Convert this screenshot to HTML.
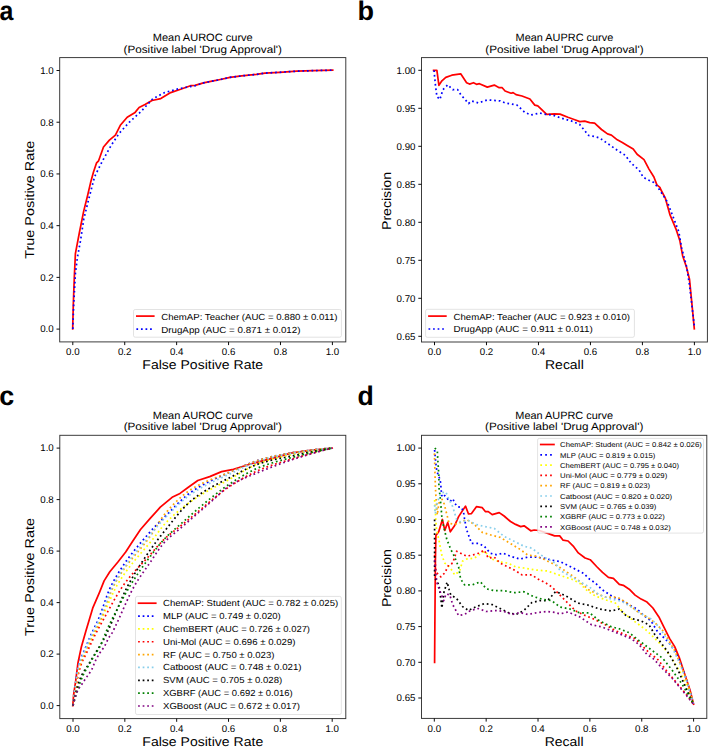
<!DOCTYPE html>
<html><head><meta charset="utf-8"><title>Mean AUROC / AUPRC curves</title>
<style>html,body{margin:0;padding:0;background:#fff;}svg{display:block;}text{font-family:"Liberation Sans", sans-serif;fill:#000;text-rendering:geometricPrecision;}</style>
</head><body>
<svg width="708" height="747" viewBox="0 0 708 747">
<rect x="0" y="0" width="708" height="747" fill="#fff"/>
<clipPath id="clipa"><rect x="59.7" y="57.6" width="286.1" height="284.29999999999995"/></clipPath>
<g clip-path="url(#clipa)">
<polyline points="72.70,329.00 72.70,328.40 73.30,304.60 74.30,277.60 75.40,253.70 79.50,232.00 83.70,211.10 87.60,195.50 90.60,182.60 93.50,172.00 96.60,162.80 98.60,160.80 103.50,147.00 109.40,140.10 115.40,135.10 120.30,125.30 127.20,117.30 135.10,112.40 139.10,107.50 145.00,104.50 152.00,100.50 160.80,98.60 170.70,92.60 180.60,89.30 190.50,85.70 195.00,85.40 203.50,82.90 212.00,81.20 220.40,79.50 230.00,77.40 241.60,75.90 256.40,74.40 264.90,73.10 279.70,72.30 296.70,71.20 313.60,70.60 332.70,70.20" fill="none" stroke="#ff0000" stroke-width="1.72" stroke-linejoin="round" stroke-linecap="square"/>
<polyline points="72.80,329.00 72.90,325.30 73.70,304.60 75.40,273.40 77.50,256.80 80.60,240.20 83.70,219.40 88.30,200.80 94.60,176.70 102.50,160.80 111.40,145.00 119.30,133.20 129.20,122.30 141.10,111.40 152.90,98.60 164.80,92.60 178.60,88.70 195.00,85.80 203.50,82.90 212.00,81.20 220.40,79.50 230.00,77.40 241.60,75.90 256.40,74.40 264.90,73.10 279.70,72.30 296.70,71.20 313.60,70.60 332.70,70.20" fill="none" stroke="#0000ff" stroke-width="1.72" stroke-dasharray="1.72 2.84" stroke-linejoin="round" stroke-linecap="butt"/>
</g>
<rect x="59.7" y="57.6" width="286.10" height="284.30" fill="none" stroke="#333" stroke-width="0.95"/>
<text x="72.80" y="354.90" font-size="9.8" text-anchor="middle" textLength="13.52" lengthAdjust="spacingAndGlyphs">0.0</text>
<text x="124.72" y="354.90" font-size="9.8" text-anchor="middle" textLength="13.52" lengthAdjust="spacingAndGlyphs">0.2</text>
<text x="176.64" y="354.90" font-size="9.8" text-anchor="middle" textLength="13.52" lengthAdjust="spacingAndGlyphs">0.4</text>
<text x="228.56" y="354.90" font-size="9.8" text-anchor="middle" textLength="13.52" lengthAdjust="spacingAndGlyphs">0.6</text>
<text x="280.48" y="354.90" font-size="9.8" text-anchor="middle" textLength="13.52" lengthAdjust="spacingAndGlyphs">0.8</text>
<text x="332.40" y="354.90" font-size="9.8" text-anchor="middle" textLength="13.52" lengthAdjust="spacingAndGlyphs">1.0</text>
<text x="53.70" y="332.40" font-size="9.8" text-anchor="end" textLength="13.52" lengthAdjust="spacingAndGlyphs">0.0</text>
<text x="53.70" y="280.68" font-size="9.8" text-anchor="end" textLength="13.52" lengthAdjust="spacingAndGlyphs">0.2</text>
<text x="53.70" y="228.96" font-size="9.8" text-anchor="end" textLength="13.52" lengthAdjust="spacingAndGlyphs">0.4</text>
<text x="53.70" y="177.24" font-size="9.8" text-anchor="end" textLength="13.52" lengthAdjust="spacingAndGlyphs">0.6</text>
<text x="53.70" y="125.52" font-size="9.8" text-anchor="end" textLength="13.52" lengthAdjust="spacingAndGlyphs">0.8</text>
<text x="53.70" y="73.80" font-size="9.8" text-anchor="end" textLength="13.52" lengthAdjust="spacingAndGlyphs">1.0</text>
<path d="M72.80,341.90V345.10 M124.72,341.90V345.10 M176.64,341.90V345.10 M228.56,341.90V345.10 M280.48,341.90V345.10 M332.40,341.90V345.10 M59.70,329.10H56.50 M59.70,277.38H56.50 M59.70,225.66H56.50 M59.70,173.94H56.50 M59.70,122.22H56.50 M59.70,70.50H56.50" stroke="#000" stroke-width="0.95" fill="none"/>
<text x="202.75" y="368.90" font-size="12.8" text-anchor="middle" textLength="120.82" lengthAdjust="spacingAndGlyphs">False Positive Rate</text>
<text x="34.20" y="199.75" font-size="12.8" text-anchor="middle" textLength="118.03" lengthAdjust="spacingAndGlyphs" transform="rotate(-90 34.20 199.75)">True Positive Rate</text>
<text x="202.75" y="41.30" font-size="10.6" text-anchor="middle" textLength="100.02" lengthAdjust="spacingAndGlyphs">Mean AUROC curve</text>
<text x="202.75" y="52.60" font-size="10.6" text-anchor="middle" textLength="158.30" lengthAdjust="spacingAndGlyphs">(Positive label &#39;Drug Approval&#39;)</text>
<rect x="133.5" y="309.5" width="207.90" height="27.70" rx="1.7" ry="1.7" fill="#fff" fill-opacity="0.8" stroke="#cccccc" stroke-opacity="0.8" stroke-width="0.7"/>
<path d="M136.00,316.10H154.60" stroke="#ff0000" stroke-width="1.72" fill="none"/>
<text x="161.20" y="319.50" font-size="8.8" text-anchor="start" textLength="176.37" lengthAdjust="spacingAndGlyphs">ChemAP: Teacher (AUC = 0.880 ± 0.011)</text>
<path d="M136.40,328.24h1.72v1.72h-1.72z M140.96,328.24h1.72v1.72h-1.72z M145.52,328.24h1.72v1.72h-1.72z M150.07,328.24h1.72v1.72h-1.72z" fill="#0000ff"/>
<text x="161.20" y="332.50" font-size="8.8" text-anchor="start" textLength="139.27" lengthAdjust="spacingAndGlyphs">DrugApp (AUC = 0.871 ± 0.012)</text>
<clipPath id="clipb"><rect x="421.5" y="57.6" width="285.9" height="284.4"/></clipPath>
<g clip-path="url(#clipb)">
<polyline points="433.60,70.30 436.90,70.30 438.90,85.30 441.90,80.80 445.80,77.40 451.80,75.20 460.70,73.80 466.60,82.70 469.50,84.10 473.50,82.70 476.50,84.30 479.40,83.70 487.30,87.10 494.30,85.10 499.20,87.70 502.20,87.70 505.10,91.00 511.10,93.20 513.10,92.60 516.00,94.60 522.00,96.00 527.90,98.20 529.90,99.00 534.80,105.10 537.80,105.90 546.70,114.40 554.60,113.80 560.00,114.10 567.90,117.30 574.80,119.70 579.80,121.60 584.70,121.20 589.70,122.60 594.60,123.20 601.50,129.50 607.50,133.90 611.40,135.10 617.30,139.80 622.30,142.40 627.20,145.40 633.20,148.90 637.10,154.30 644.00,159.60 649.00,169.10 653.90,177.00 656.90,184.90 659.90,187.30 661.00,190.00 665.20,197.80 670.10,215.20 675.90,228.80 679.80,240.40 682.70,256.00 686.60,267.60 689.50,279.30 691.40,298.70 694.30,328.70" fill="none" stroke="#ff0000" stroke-width="1.72" stroke-linejoin="round" stroke-linecap="square"/>
<polyline points="434.00,70.30 435.50,85.70 436.90,96.60 439.90,99.50 442.90,89.70 447.80,84.70 452.70,89.70 457.70,89.70 460.70,94.60 468.60,103.50 471.50,100.90 478.40,102.90 487.30,99.90 500.20,100.90 505.10,102.90 517.00,105.10 524.90,112.40 530.90,115.00 539.80,113.00 545.70,114.40 552.60,115.00 560.00,117.70 571.90,121.20 579.80,124.60 583.70,129.50 588.70,135.50 594.60,136.50 599.50,137.90 607.50,143.40 617.30,150.30 625.30,155.30 631.20,163.20 639.10,170.10 643.10,177.00 647.00,179.40 653.90,182.50 658.90,188.90 664.80,197.80 667.20,201.60 674.00,219.10 678.80,231.70 681.70,248.20 686.60,266.60 689.50,285.10 692.00,306.40 694.30,325.80" fill="none" stroke="#0000ff" stroke-width="1.72" stroke-dasharray="1.72 2.84" stroke-linejoin="round" stroke-linecap="butt"/>
</g>
<rect x="421.5" y="57.6" width="285.90" height="284.40" fill="none" stroke="#333" stroke-width="0.95"/>
<text x="434.50" y="355.00" font-size="9.8" text-anchor="middle" textLength="13.52" lengthAdjust="spacingAndGlyphs">0.0</text>
<text x="486.48" y="355.00" font-size="9.8" text-anchor="middle" textLength="13.52" lengthAdjust="spacingAndGlyphs">0.2</text>
<text x="538.46" y="355.00" font-size="9.8" text-anchor="middle" textLength="13.52" lengthAdjust="spacingAndGlyphs">0.4</text>
<text x="590.44" y="355.00" font-size="9.8" text-anchor="middle" textLength="13.52" lengthAdjust="spacingAndGlyphs">0.6</text>
<text x="642.42" y="355.00" font-size="9.8" text-anchor="middle" textLength="13.52" lengthAdjust="spacingAndGlyphs">0.8</text>
<text x="694.40" y="355.00" font-size="9.8" text-anchor="middle" textLength="13.52" lengthAdjust="spacingAndGlyphs">1.0</text>
<text x="415.50" y="339.60" font-size="9.8" text-anchor="end" textLength="18.93" lengthAdjust="spacingAndGlyphs">0.65</text>
<text x="415.50" y="301.60" font-size="9.8" text-anchor="end" textLength="18.93" lengthAdjust="spacingAndGlyphs">0.70</text>
<text x="415.50" y="263.60" font-size="9.8" text-anchor="end" textLength="18.93" lengthAdjust="spacingAndGlyphs">0.75</text>
<text x="415.50" y="225.60" font-size="9.8" text-anchor="end" textLength="18.93" lengthAdjust="spacingAndGlyphs">0.80</text>
<text x="415.50" y="187.60" font-size="9.8" text-anchor="end" textLength="18.93" lengthAdjust="spacingAndGlyphs">0.85</text>
<text x="415.50" y="149.60" font-size="9.8" text-anchor="end" textLength="18.93" lengthAdjust="spacingAndGlyphs">0.90</text>
<text x="415.50" y="111.60" font-size="9.8" text-anchor="end" textLength="18.93" lengthAdjust="spacingAndGlyphs">0.95</text>
<text x="415.50" y="73.60" font-size="9.8" text-anchor="end" textLength="18.93" lengthAdjust="spacingAndGlyphs">1.00</text>
<path d="M434.50,342.00V345.20 M486.48,342.00V345.20 M538.46,342.00V345.20 M590.44,342.00V345.20 M642.42,342.00V345.20 M694.40,342.00V345.20 M421.50,336.30H418.30 M421.50,298.30H418.30 M421.50,260.30H418.30 M421.50,222.30H418.30 M421.50,184.30H418.30 M421.50,146.30H418.30 M421.50,108.30H418.30 M421.50,70.30H418.30" stroke="#000" stroke-width="0.95" fill="none"/>
<text x="564.45" y="369.00" font-size="12.8" text-anchor="middle" textLength="38.78" lengthAdjust="spacingAndGlyphs">Recall</text>
<text x="391.00" y="201.00" font-size="12.8" text-anchor="middle" textLength="58.01" lengthAdjust="spacingAndGlyphs" transform="rotate(-90 391.00 201.00)">Precision</text>
<text x="564.45" y="41.30" font-size="10.6" text-anchor="middle" textLength="97.63" lengthAdjust="spacingAndGlyphs">Mean AUPRC curve</text>
<text x="564.45" y="52.60" font-size="10.6" text-anchor="middle" textLength="158.30" lengthAdjust="spacingAndGlyphs">(Positive label &#39;Drug Approval&#39;)</text>
<rect x="425.6" y="309.3" width="208.80" height="28.00" rx="1.7" ry="1.7" fill="#fff" fill-opacity="0.8" stroke="#cccccc" stroke-opacity="0.8" stroke-width="0.7"/>
<path d="M428.10,316.10H446.70" stroke="#ff0000" stroke-width="1.72" fill="none"/>
<text x="453.60" y="319.50" font-size="8.8" text-anchor="start" textLength="176.37" lengthAdjust="spacingAndGlyphs">ChemAP: Teacher (AUC = 0.923 ± 0.010)</text>
<path d="M428.50,328.14h1.72v1.72h-1.72z M433.06,328.14h1.72v1.72h-1.72z M437.62,328.14h1.72v1.72h-1.72z M442.17,328.14h1.72v1.72h-1.72z" fill="#0000ff"/>
<text x="453.60" y="332.40" font-size="8.8" text-anchor="start" textLength="139.27" lengthAdjust="spacingAndGlyphs">DrugApp (AUC = 0.911 ± 0.011)</text>
<clipPath id="clipc"><rect x="59.8" y="435.3" width="286.0" height="283.3"/></clipPath>
<g clip-path="url(#clipc)">
<polyline points="72.80,705.60 73.60,695.00 75.70,680.90 78.00,662.70 81.40,646.80 85.90,630.90 92.70,608.20 99.50,592.30 104.10,580.90 109.80,571.80 117.70,562.20 125.70,552.00 132.50,541.50 140.50,529.50 150.40,518.10 160.30,507.20 172.10,497.30 180.00,493.40 188.00,487.50 197.80,480.50 209.70,476.60 221.60,471.60 233.40,469.30 254.70,462.80 292.20,452.90 312.00,450.20 332.20,448.10" fill="none" stroke="#ff0000" stroke-width="1.72" stroke-linejoin="round" stroke-linecap="square"/>
<polyline points="73.00,705.60 73.68,699.35 74.36,693.35 75.05,687.68 75.73,682.38 76.41,677.51 77.09,673.13 77.77,669.29 78.46,666.06 79.14,663.45 79.82,661.22 80.50,659.26 81.19,657.52 81.87,655.92 82.55,654.42 83.23,652.93 83.91,651.40 84.60,649.77 85.28,648.12 85.96,646.49 87.51,642.84 89.06,639.27 90.61,635.78 92.15,632.36 93.70,629.11 95.25,625.99 96.80,622.83 98.35,619.46 99.90,615.67 101.45,611.51 103.00,607.10 104.54,602.60 106.09,598.15 107.64,593.90 109.19,589.99 110.74,586.58 112.29,583.62 113.84,580.78 115.38,578.03 116.93,575.38 118.48,572.81 120.03,570.32 121.58,567.91 123.13,565.58 124.68,563.31 126.23,561.10 127.77,558.96 129.32,556.86 130.87,554.82 132.42,552.83 133.97,550.88 135.52,548.96 137.07,547.08 138.62,545.22 140.16,543.39 141.71,541.58 143.26,539.78 144.81,538.00 146.36,536.21 147.91,534.44 149.46,532.65 151.00,530.88 152.55,529.17 154.10,527.51 155.65,525.89 157.20,524.31 158.75,522.77 160.30,521.24 161.85,519.72 163.39,518.20 164.94,516.67 166.49,515.12 168.04,513.56 169.59,511.98 171.14,510.40 172.69,508.81 174.23,507.24 175.78,505.67 177.33,504.12 178.88,502.60 180.43,501.10 181.98,499.64 183.53,498.22 185.08,496.85 186.62,495.53 188.17,494.27 189.72,493.07 191.27,491.94 192.82,490.89 194.37,489.88 195.92,488.90 197.46,487.96 199.01,487.04 200.56,486.14 202.11,485.28 203.66,484.43 205.21,483.61 206.76,482.81 208.31,482.02 209.85,481.25 211.40,480.50 212.95,479.76 214.50,479.04 216.05,478.32 217.60,477.61 219.15,476.91 220.70,476.22 222.24,475.53 223.79,474.84 225.34,474.16 226.89,473.47 228.44,472.78 229.99,472.09 231.54,471.39 233.08,470.69 234.63,469.98 236.18,469.28 237.73,468.58 239.28,467.88 240.83,467.18 242.38,466.50 243.93,465.82 245.47,465.15 247.02,464.50 248.57,463.86 250.12,463.23 251.67,462.63 253.22,462.05 254.77,461.48 256.31,460.94 257.86,460.43 259.41,459.95 260.96,459.49 262.51,459.06 264.06,458.64 265.61,458.23 267.16,457.83 268.70,457.44 270.25,457.06 271.80,456.69 273.35,456.33 274.90,455.98 276.45,455.64 278.00,455.31 279.54,455.00 281.09,454.69 282.64,454.39 284.19,454.10 285.74,453.82 287.29,453.55 288.84,453.28 290.39,453.03 291.93,452.79 293.48,452.55 295.03,452.32 296.58,452.09 298.13,451.86 299.68,451.63 301.23,451.41 302.78,451.19 304.32,450.98 305.87,450.77 307.42,450.57 308.97,450.36 310.52,450.17 312.07,449.98 313.62,449.79 315.16,449.61 316.71,449.44 318.26,449.27 319.81,449.11 321.36,448.96 322.91,448.81 324.46,448.67 326.01,448.54 327.55,448.42 329.10,448.30 330.65,448.20 332.20,448.10" fill="none" stroke="#0000ff" stroke-width="1.72" stroke-dasharray="1.72 2.84" stroke-linejoin="round" stroke-linecap="butt"/>
<polyline points="73.00,705.60 73.68,700.62 74.36,695.81 75.05,691.21 75.73,686.83 76.41,682.70 77.09,678.85 77.77,675.30 78.46,672.07 79.14,669.20 79.82,666.69 80.50,664.50 81.19,662.52 81.87,660.73 82.55,659.07 83.23,657.52 83.91,656.03 84.60,654.56 85.28,653.07 85.96,651.52 87.51,647.98 89.06,644.54 90.61,641.18 92.15,637.88 93.70,634.64 95.25,631.47 96.80,628.40 98.35,625.38 99.90,622.32 101.45,619.14 103.00,615.79 104.54,612.31 106.09,608.75 107.64,605.15 109.19,601.56 110.74,598.03 112.29,594.61 113.84,591.33 115.38,588.25 116.93,585.42 118.48,582.84 120.03,580.37 121.58,577.99 123.13,575.69 124.68,573.47 126.23,571.32 127.77,569.23 129.32,567.20 130.87,565.22 132.42,563.28 133.97,561.39 135.52,559.53 137.07,557.69 138.62,555.88 140.16,554.08 141.71,552.30 143.26,550.51 144.81,548.72 146.36,546.93 147.91,545.11 149.46,543.28 151.00,541.42 152.55,539.53 154.10,537.60 155.65,535.62 157.20,533.55 158.75,531.44 160.30,529.34 161.85,527.33 163.39,525.48 164.94,523.81 166.49,522.20 168.04,520.63 169.59,519.10 171.14,517.61 172.69,516.16 174.23,514.74 175.78,513.36 177.33,512.02 178.88,510.70 180.43,509.42 181.98,508.17 183.53,506.95 185.08,505.75 186.62,504.58 188.17,503.44 189.72,502.32 191.27,501.22 192.82,500.15 194.37,499.10 195.92,498.07 197.46,497.08 199.01,496.10 200.56,495.15 202.11,494.22 203.66,493.30 205.21,492.40 206.76,491.52 208.31,490.65 209.85,489.80 211.40,488.95 212.95,488.12 214.50,487.29 216.05,486.46 217.60,485.64 219.15,484.83 220.70,484.01 222.24,483.19 223.79,482.38 225.34,481.55 226.89,480.73 228.44,479.89 229.99,479.05 231.54,478.19 233.08,477.31 234.63,476.42 236.18,475.52 237.73,474.60 239.28,473.69 240.83,472.77 242.38,471.86 243.93,470.95 245.47,470.06 247.02,469.18 248.57,468.32 250.12,467.49 251.67,466.68 253.22,465.90 254.77,465.16 256.31,464.45 257.86,463.78 259.41,463.17 260.96,462.60 262.51,462.07 264.06,461.56 265.61,461.06 267.16,460.59 268.70,460.13 270.25,459.68 271.80,459.25 273.35,458.83 274.90,458.43 276.45,458.03 278.00,457.65 279.54,457.28 281.09,456.92 282.64,456.57 284.19,456.22 285.74,455.89 287.29,455.56 288.84,455.24 290.39,454.92 291.93,454.61 293.48,454.30 295.03,453.99 296.58,453.69 298.13,453.39 299.68,453.10 301.23,452.80 302.78,452.52 304.32,452.23 305.87,451.95 307.42,451.68 308.97,451.41 310.52,451.15 312.07,450.89 313.62,450.63 315.16,450.39 316.71,450.14 318.26,449.91 319.81,449.68 321.36,449.46 322.91,449.24 324.46,449.03 326.01,448.83 327.55,448.64 329.10,448.45 330.65,448.27 332.20,448.10" fill="none" stroke="#ffff00" stroke-width="1.72" stroke-dasharray="1.72 2.84" stroke-linejoin="round" stroke-linecap="butt"/>
<polyline points="73.00,705.60 73.68,700.95 74.36,696.45 75.05,692.12 75.73,687.98 76.41,684.05 77.09,680.36 77.77,676.93 78.46,673.78 79.14,670.93 79.82,668.41 80.50,666.23 81.19,664.29 81.87,662.54 82.55,660.95 83.23,659.48 83.91,658.10 84.60,656.78 85.28,655.48 85.96,654.17 87.51,650.98 89.06,647.63 90.61,644.29 92.15,640.98 93.70,637.74 95.25,634.60 96.80,631.58 98.35,628.67 99.90,625.84 101.45,623.05 103.00,620.29 104.54,617.51 106.09,614.69 107.64,611.87 109.19,609.04 110.74,606.22 112.29,603.43 113.84,600.67 115.38,597.96 116.93,595.32 118.48,592.75 120.03,590.27 121.58,587.89 123.13,585.62 124.68,583.48 126.23,581.43 127.77,579.46 129.32,577.55 130.87,575.70 132.42,573.91 133.97,572.16 135.52,570.45 137.07,568.77 138.62,567.11 140.16,565.47 141.71,563.84 143.26,562.21 144.81,560.57 146.36,558.92 147.91,557.25 149.46,555.55 151.00,553.81 152.55,552.04 154.10,550.25 155.65,548.46 157.20,546.68 158.75,544.94 160.30,543.24 161.85,541.62 163.39,540.07 164.94,538.62 166.49,537.23 168.04,535.90 169.59,534.61 171.14,533.36 172.69,532.14 174.23,530.93 175.78,529.74 177.33,528.55 178.88,527.35 180.43,526.14 181.98,524.91 183.53,523.65 185.08,522.38 186.62,521.12 188.17,519.85 189.72,518.59 191.27,517.33 192.82,516.07 194.37,514.81 195.92,513.53 197.46,512.23 199.01,510.93 200.56,509.62 202.11,508.30 203.66,506.98 205.21,505.66 206.76,504.34 208.31,503.02 209.85,501.71 211.40,500.40 212.95,499.11 214.50,497.83 216.05,496.57 217.60,495.32 219.15,494.10 220.70,492.89 222.24,491.71 223.79,490.56 225.34,489.44 226.89,488.35 228.44,487.29 229.99,486.27 231.54,485.27 233.08,484.29 234.63,483.31 236.18,482.35 237.73,481.40 239.28,480.47 240.83,479.55 242.38,478.65 243.93,477.76 245.47,476.89 247.02,476.04 248.57,475.20 250.12,474.39 251.67,473.60 253.22,472.82 254.77,472.07 256.31,471.35 257.86,470.64 259.41,469.96 260.96,469.31 262.51,468.67 264.06,468.06 265.61,467.47 267.16,466.89 268.70,466.33 270.25,465.78 271.80,465.25 273.35,464.73 274.90,464.22 276.45,463.72 278.00,463.22 279.54,462.74 281.09,462.26 282.64,461.79 284.19,461.33 285.74,460.86 287.29,460.40 288.84,459.94 290.39,459.48 291.93,459.02 293.48,458.56 295.03,458.10 296.58,457.64 298.13,457.19 299.68,456.73 301.23,456.29 302.78,455.84 304.32,455.40 305.87,454.96 307.42,454.53 308.97,454.10 310.52,453.67 312.07,453.24 313.62,452.82 315.16,452.41 316.71,452.00 318.26,451.59 319.81,451.18 321.36,450.78 322.91,450.39 324.46,449.99 326.01,449.61 327.55,449.22 329.10,448.84 330.65,448.47 332.20,448.10" fill="none" stroke="#ff0000" stroke-width="1.72" stroke-dasharray="1.72 2.84" stroke-linejoin="round" stroke-linecap="butt"/>
<polyline points="73.00,705.60 73.68,700.46 74.36,695.50 75.05,690.74 75.73,686.23 76.41,681.97 77.09,678.02 77.77,674.40 78.46,671.13 79.14,668.26 79.82,665.78 80.50,663.56 81.19,661.55 81.87,659.71 82.55,658.00 83.23,656.40 83.91,654.85 84.60,653.34 85.28,651.81 85.96,650.24 87.51,646.68 89.06,643.28 90.61,639.99 92.15,636.76 93.70,633.57 95.25,630.48 96.80,627.51 98.35,624.50 99.90,621.32 101.45,617.78 103.00,613.87 104.54,609.70 106.09,605.37 107.64,601.02 109.19,596.74 110.74,592.66 112.29,588.89 113.84,585.54 115.38,582.65 116.93,579.94 118.48,577.35 120.03,574.88 121.58,572.51 123.13,570.24 124.68,568.07 126.23,565.96 127.77,563.93 129.32,561.96 130.87,560.03 132.42,558.15 133.97,556.30 135.52,554.46 137.07,552.64 138.62,550.82 140.16,548.98 141.71,547.13 143.26,545.26 144.81,543.34 146.36,541.38 147.91,539.36 149.46,537.27 151.00,535.11 152.55,532.85 154.10,530.44 155.65,527.90 157.20,525.30 158.75,522.73 160.30,520.23 161.85,517.89 163.39,515.78 164.94,513.90 166.49,512.07 168.04,510.29 169.59,508.55 171.14,506.85 172.69,505.20 174.23,503.59 175.78,502.03 177.33,500.51 178.88,499.05 180.43,497.64 181.98,496.27 183.53,494.97 185.08,493.72 186.62,492.52 188.17,491.38 189.72,490.31 191.27,489.29 192.82,488.33 194.37,487.42 195.92,486.55 197.46,485.71 199.01,484.90 200.56,484.13 202.11,483.39 203.66,482.67 205.21,481.97 206.76,481.29 208.31,480.64 209.85,480.00 211.40,479.37 212.95,478.76 214.50,478.15 216.05,477.55 217.60,476.96 219.15,476.37 220.70,475.77 222.24,475.18 223.79,474.58 225.34,473.97 226.89,473.36 228.44,472.73 229.99,472.08 231.54,471.43 233.08,470.76 234.63,470.08 236.18,469.39 237.73,468.70 239.28,468.01 240.83,467.31 242.38,466.62 243.93,465.94 245.47,465.26 247.02,464.60 248.57,463.94 250.12,463.31 251.67,462.69 253.22,462.09 254.77,461.51 256.31,460.96 257.86,460.44 259.41,459.95 260.96,459.49 262.51,459.06 264.06,458.64 265.61,458.23 267.16,457.83 268.70,457.44 270.25,457.06 271.80,456.69 273.35,456.33 274.90,455.98 276.45,455.64 278.00,455.31 279.54,455.00 281.09,454.69 282.64,454.39 284.19,454.10 285.74,453.82 287.29,453.55 288.84,453.28 290.39,453.03 291.93,452.79 293.48,452.55 295.03,452.32 296.58,452.09 298.13,451.86 299.68,451.63 301.23,451.41 302.78,451.19 304.32,450.98 305.87,450.77 307.42,450.57 308.97,450.36 310.52,450.17 312.07,449.98 313.62,449.79 315.16,449.61 316.71,449.44 318.26,449.27 319.81,449.11 321.36,448.96 322.91,448.81 324.46,448.67 326.01,448.54 327.55,448.42 329.10,448.30 330.65,448.20 332.20,448.10" fill="none" stroke="#ffa500" stroke-width="1.72" stroke-dasharray="1.72 2.84" stroke-linejoin="round" stroke-linecap="butt"/>
<polyline points="73.00,705.60 73.68,699.45 74.36,693.53 75.05,687.90 75.73,682.65 76.41,677.83 77.09,673.51 77.77,669.76 78.46,666.64 79.14,664.14 79.82,661.98 80.50,660.07 81.19,658.36 81.87,656.79 82.55,655.33 83.23,653.91 83.91,652.48 84.60,650.99 85.28,649.41 85.96,647.83 87.51,644.29 89.06,640.84 90.61,637.46 92.15,634.16 93.70,630.95 95.25,627.92 96.80,624.94 98.35,621.84 99.90,618.43 101.45,614.69 103.00,610.71 104.54,606.59 106.09,602.41 107.64,598.27 109.19,594.27 110.74,590.51 112.29,587.07 113.84,584.06 115.38,581.31 116.93,578.66 118.48,576.10 120.03,573.64 121.58,571.25 123.13,568.95 124.68,566.71 126.23,564.55 127.77,562.44 129.32,560.38 130.87,558.38 132.42,556.42 133.97,554.49 135.52,552.59 137.07,550.72 138.62,548.87 140.16,547.04 141.71,545.21 143.26,543.38 144.81,541.55 146.36,539.70 147.91,537.85 149.46,535.97 151.00,534.06 152.55,532.15 154.10,530.24 155.65,528.36 157.20,526.50 158.75,524.68 160.30,522.91 161.85,521.19 163.39,519.52 164.94,517.92 166.49,516.32 168.04,514.73 169.59,513.16 171.14,511.60 172.69,510.05 174.23,508.53 175.78,507.03 177.33,505.56 178.88,504.11 180.43,502.70 181.98,501.33 183.53,499.99 185.08,498.70 186.62,497.45 188.17,496.24 189.72,495.09 191.27,493.99 192.82,492.95 194.37,491.94 195.92,490.97 197.46,490.02 199.01,489.10 200.56,488.21 202.11,487.34 203.66,486.49 205.21,485.66 206.76,484.85 208.31,484.06 209.85,483.29 211.40,482.53 212.95,481.78 214.50,481.04 216.05,480.31 217.60,479.59 219.15,478.87 220.70,478.16 222.24,477.45 223.79,476.74 225.34,476.04 226.89,475.33 228.44,474.61 229.99,473.89 231.54,473.16 233.08,472.43 234.63,471.69 236.18,470.95 237.73,470.21 239.28,469.47 240.83,468.74 242.38,468.01 243.93,467.29 245.47,466.58 247.02,465.88 248.57,465.20 250.12,464.53 251.67,463.89 253.22,463.26 254.77,462.66 256.31,462.08 257.86,461.53 259.41,461.01 260.96,460.53 262.51,460.06 264.06,459.61 265.61,459.17 267.16,458.74 268.70,458.33 270.25,457.92 271.80,457.52 273.35,457.14 274.90,456.77 276.45,456.40 278.00,456.05 279.54,455.70 281.09,455.37 282.64,455.05 284.19,454.73 285.74,454.43 287.29,454.14 288.84,453.85 290.39,453.58 291.93,453.31 293.48,453.05 295.03,452.79 296.58,452.54 298.13,452.29 299.68,452.04 301.23,451.80 302.78,451.56 304.32,451.32 305.87,451.09 307.42,450.87 308.97,450.64 310.52,450.43 312.07,450.22 313.62,450.01 315.16,449.81 316.71,449.62 318.26,449.43 319.81,449.26 321.36,449.08 322.91,448.92 324.46,448.76 326.01,448.61 327.55,448.47 329.10,448.34 330.65,448.21 332.20,448.10" fill="none" stroke="#87ceeb" stroke-width="1.72" stroke-dasharray="1.72 2.84" stroke-linejoin="round" stroke-linecap="butt"/>
<polyline points="73.00,705.60 73.68,702.48 74.36,699.44 75.05,696.50 75.73,693.67 76.41,690.96 77.09,688.39 77.77,685.96 78.46,683.68 79.14,681.57 79.82,679.65 80.50,677.91 81.19,676.37 81.87,674.97 82.55,673.68 83.23,672.50 83.91,671.39 84.60,670.34 85.28,669.33 85.96,668.33 87.51,666.05 89.06,663.56 90.61,661.00 92.15,658.43 93.70,655.87 95.25,653.31 96.80,650.75 98.35,648.25 99.90,645.79 101.45,643.27 103.00,640.64 104.54,637.83 106.09,634.80 107.64,631.58 109.19,628.21 110.74,624.71 112.29,621.11 113.84,617.44 115.38,613.73 116.93,610.01 118.48,606.29 120.03,602.62 121.58,599.03 123.13,595.53 124.68,592.15 126.23,588.94 127.77,585.91 129.32,583.05 130.87,580.27 132.42,577.56 133.97,574.92 135.52,572.34 137.07,569.81 138.62,567.34 140.16,564.91 141.71,562.53 143.26,560.18 144.81,557.87 146.36,555.59 147.91,553.33 149.46,551.09 151.00,548.87 152.55,546.69 154.10,544.56 155.65,542.46 157.20,540.41 158.75,538.38 160.30,536.40 161.85,534.44 163.39,532.51 164.94,530.60 166.49,528.67 168.04,526.73 169.59,524.78 171.14,522.84 172.69,520.90 174.23,518.97 175.78,517.07 177.33,515.19 178.88,513.34 180.43,511.54 181.98,509.78 183.53,508.08 185.08,506.43 186.62,504.86 188.17,503.35 189.72,501.93 191.27,500.59 192.82,499.34 194.37,498.16 195.92,497.01 197.46,495.89 199.01,494.81 200.56,493.77 202.11,492.75 203.66,491.77 205.21,490.81 206.76,489.87 208.31,488.96 209.85,488.07 211.40,487.20 212.95,486.34 214.50,485.50 216.05,484.68 217.60,483.86 219.15,483.05 220.70,482.26 222.24,481.46 223.79,480.67 225.34,479.88 226.89,479.09 228.44,478.30 229.99,477.50 231.54,476.70 233.08,475.89 234.63,475.08 236.18,474.26 237.73,473.45 239.28,472.65 240.83,471.85 242.38,471.06 243.93,470.28 245.47,469.51 247.02,468.76 248.57,468.03 250.12,467.32 251.67,466.63 253.22,465.96 254.77,465.33 256.31,464.72 257.86,464.15 259.41,463.61 260.96,463.10 262.51,462.63 264.06,462.18 265.61,461.75 267.16,461.33 268.70,460.93 270.25,460.54 271.80,460.17 273.35,459.81 274.90,459.46 276.45,459.11 278.00,458.78 279.54,458.45 281.09,458.13 282.64,457.81 284.19,457.49 285.74,457.18 287.29,456.86 288.84,456.54 290.39,456.22 291.93,455.90 293.48,455.57 295.03,455.25 296.58,454.92 298.13,454.60 299.68,454.28 301.23,453.96 302.78,453.65 304.32,453.33 305.87,453.02 307.42,452.71 308.97,452.41 310.52,452.10 312.07,451.80 313.62,451.50 315.16,451.20 316.71,450.91 318.26,450.61 319.81,450.32 321.36,450.04 322.91,449.75 324.46,449.47 326.01,449.19 327.55,448.91 329.10,448.64 330.65,448.37 332.20,448.10" fill="none" stroke="#000000" stroke-width="1.72" stroke-dasharray="1.72 2.84" stroke-linejoin="round" stroke-linecap="butt"/>
<polyline points="73.00,705.60 73.68,703.08 74.36,700.63 75.05,698.24 75.73,695.91 76.41,693.65 77.09,691.46 77.77,689.34 78.46,687.29 79.14,685.31 79.82,683.41 80.50,681.57 81.19,679.82 81.87,678.13 82.55,676.53 83.23,675.00 83.91,673.56 84.60,672.22 85.28,670.97 85.96,669.78 87.51,667.23 89.06,664.71 90.61,662.04 92.15,659.32 93.70,656.65 95.25,654.15 96.80,651.83 98.35,649.43 99.90,646.73 101.45,643.45 103.00,639.60 104.54,635.57 106.09,631.72 107.64,628.25 109.19,624.98 110.74,621.83 112.29,618.72 113.84,615.64 115.38,612.59 116.93,609.57 118.48,606.59 120.03,603.66 121.58,600.76 123.13,597.92 124.68,595.13 126.23,592.39 127.77,589.72 129.32,587.10 130.87,584.55 132.42,582.06 133.97,579.62 135.52,577.24 137.07,574.89 138.62,572.59 140.16,570.33 141.71,568.11 143.26,565.92 144.81,563.77 146.36,561.64 147.91,559.54 149.46,557.47 151.00,555.41 152.55,553.36 154.10,551.34 155.65,549.35 157.20,547.40 158.75,545.49 160.30,543.64 161.85,541.86 163.39,540.14 164.94,538.50 166.49,536.92 168.04,535.40 169.59,533.92 171.14,532.47 172.69,531.07 174.23,529.68 175.78,528.31 177.33,526.96 178.88,525.60 180.43,524.24 181.98,522.88 183.53,521.50 185.08,520.12 186.62,518.75 188.17,517.38 189.72,516.01 191.27,514.65 192.82,513.29 194.37,511.95 195.92,510.60 197.46,509.27 199.01,507.94 200.56,506.62 202.11,505.32 203.66,504.02 205.21,502.73 206.76,501.45 208.31,500.19 209.85,498.94 211.40,497.70 212.95,496.46 214.50,495.21 216.05,493.98 217.60,492.75 219.15,491.53 220.70,490.33 222.24,489.15 223.79,487.99 225.34,486.86 226.89,485.77 228.44,484.71 229.99,483.69 231.54,482.70 233.08,481.71 234.63,480.74 236.18,479.77 237.73,478.81 239.28,477.86 240.83,476.93 242.38,476.01 243.93,475.11 245.47,474.23 247.02,473.36 248.57,472.52 250.12,471.70 251.67,470.91 253.22,470.14 254.77,469.39 256.31,468.68 257.86,468.00 259.41,467.34 260.96,466.72 262.51,466.13 264.06,465.57 265.61,465.02 267.16,464.48 268.70,463.97 270.25,463.47 271.80,462.99 273.35,462.51 274.90,462.05 276.45,461.61 278.00,461.17 279.54,460.74 281.09,460.32 282.64,459.90 284.19,459.49 285.74,459.08 287.29,458.67 288.84,458.27 290.39,457.87 291.93,457.46 293.48,457.06 295.03,456.65 296.58,456.25 298.13,455.86 299.68,455.46 301.23,455.07 302.78,454.69 304.32,454.30 305.87,453.92 307.42,453.55 308.97,453.17 310.52,452.81 312.07,452.44 313.62,452.08 315.16,451.72 316.71,451.37 318.26,451.02 319.81,450.68 321.36,450.34 322.91,450.01 324.46,449.68 326.01,449.35 327.55,449.03 329.10,448.72 330.65,448.40 332.20,448.10" fill="none" stroke="#008000" stroke-width="1.72" stroke-dasharray="1.72 2.84" stroke-linejoin="round" stroke-linecap="butt"/>
<polyline points="73.00,705.60 73.68,702.86 74.36,700.25 75.05,697.82 75.73,695.60 76.41,693.62 77.09,691.93 77.77,690.51 78.46,689.26 79.14,688.14 79.82,687.12 80.50,686.14 81.19,685.17 81.87,684.16 82.55,683.12 83.23,682.11 83.91,681.10 84.60,680.11 85.28,679.12 85.96,678.13 87.51,675.87 89.06,673.71 90.61,671.41 92.15,668.61 93.70,664.83 95.25,661.13 96.80,658.12 98.35,655.38 99.90,652.85 101.45,650.62 103.00,648.63 104.54,646.42 106.09,643.39 107.64,639.83 109.19,637.09 110.74,635.05 112.29,632.59 113.84,629.50 115.38,626.27 116.93,623.04 118.48,619.71 120.03,616.29 121.58,612.83 123.13,609.34 124.68,605.86 126.23,602.41 127.77,599.03 129.32,595.73 130.87,592.56 132.42,589.53 133.97,586.67 135.52,584.00 137.07,581.47 138.62,579.04 140.16,576.70 141.71,574.43 143.26,572.21 144.81,570.02 146.36,567.84 147.91,565.66 149.46,563.45 151.00,561.19 152.55,558.86 154.10,556.51 155.65,554.15 157.20,551.83 158.75,549.57 160.30,547.42 161.85,545.39 163.39,543.52 164.94,541.82 166.49,540.24 168.04,538.74 169.59,537.32 171.14,535.96 172.69,534.64 174.23,533.37 175.78,532.11 177.33,530.85 178.88,529.59 180.43,528.31 181.98,526.99 183.53,525.64 185.08,524.29 186.62,522.94 188.17,521.59 189.72,520.25 191.27,518.90 192.82,517.56 194.37,516.22 195.92,514.88 197.46,513.54 199.01,512.20 200.56,510.87 202.11,509.53 203.66,508.19 205.21,506.86 206.76,505.52 208.31,504.19 209.85,502.85 211.40,501.51 212.95,500.12 214.50,498.69 216.05,497.23 217.60,495.77 219.15,494.32 220.70,492.88 222.24,491.48 223.79,490.12 225.34,488.83 226.89,487.62 228.44,486.50 229.99,485.49 231.54,484.56 233.08,483.68 234.63,482.82 236.18,482.00 237.73,481.21 239.28,480.45 240.83,479.72 242.38,479.01 243.93,478.32 245.47,477.64 247.02,476.99 248.57,476.34 250.12,475.71 251.67,475.08 253.22,474.46 254.77,473.85 256.31,473.23 257.86,472.62 259.41,471.99 260.96,471.36 262.51,470.73 264.06,470.10 265.61,469.48 267.16,468.86 268.70,468.25 270.25,467.64 271.80,467.04 273.35,466.44 274.90,465.85 276.45,465.27 278.00,464.69 279.54,464.12 281.09,463.56 282.64,463.00 284.19,462.45 285.74,461.90 287.29,461.37 288.84,460.84 290.39,460.32 291.93,459.80 293.48,459.30 295.03,458.79 296.58,458.29 298.13,457.80 299.68,457.30 301.23,456.82 302.78,456.33 304.32,455.85 305.87,455.38 307.42,454.91 308.97,454.44 310.52,453.98 312.07,453.53 313.62,453.08 315.16,452.63 316.71,452.19 318.26,451.75 319.81,451.32 321.36,450.90 322.91,450.48 324.46,450.07 326.01,449.66 327.55,449.26 329.10,448.87 330.65,448.48 332.20,448.10" fill="none" stroke="#800080" stroke-width="1.72" stroke-dasharray="1.72 2.84" stroke-linejoin="round" stroke-linecap="butt"/>
</g>
<rect x="59.8" y="435.3" width="286.00" height="283.30" fill="none" stroke="#333" stroke-width="0.95"/>
<text x="73.00" y="731.60" font-size="9.8" text-anchor="middle" textLength="13.52" lengthAdjust="spacingAndGlyphs">0.0</text>
<text x="124.84" y="731.60" font-size="9.8" text-anchor="middle" textLength="13.52" lengthAdjust="spacingAndGlyphs">0.2</text>
<text x="176.68" y="731.60" font-size="9.8" text-anchor="middle" textLength="13.52" lengthAdjust="spacingAndGlyphs">0.4</text>
<text x="228.52" y="731.60" font-size="9.8" text-anchor="middle" textLength="13.52" lengthAdjust="spacingAndGlyphs">0.6</text>
<text x="280.36" y="731.60" font-size="9.8" text-anchor="middle" textLength="13.52" lengthAdjust="spacingAndGlyphs">0.8</text>
<text x="332.20" y="731.60" font-size="9.8" text-anchor="middle" textLength="13.52" lengthAdjust="spacingAndGlyphs">1.0</text>
<text x="53.80" y="708.90" font-size="9.8" text-anchor="end" textLength="13.52" lengthAdjust="spacingAndGlyphs">0.0</text>
<text x="53.80" y="657.40" font-size="9.8" text-anchor="end" textLength="13.52" lengthAdjust="spacingAndGlyphs">0.2</text>
<text x="53.80" y="605.90" font-size="9.8" text-anchor="end" textLength="13.52" lengthAdjust="spacingAndGlyphs">0.4</text>
<text x="53.80" y="554.40" font-size="9.8" text-anchor="end" textLength="13.52" lengthAdjust="spacingAndGlyphs">0.6</text>
<text x="53.80" y="502.90" font-size="9.8" text-anchor="end" textLength="13.52" lengthAdjust="spacingAndGlyphs">0.8</text>
<text x="53.80" y="451.40" font-size="9.8" text-anchor="end" textLength="13.52" lengthAdjust="spacingAndGlyphs">1.0</text>
<path d="M73.00,718.60V721.80 M124.84,718.60V721.80 M176.68,718.60V721.80 M228.52,718.60V721.80 M280.36,718.60V721.80 M332.20,718.60V721.80 M59.80,705.60H56.60 M59.80,654.10H56.60 M59.80,602.60H56.60 M59.80,551.10H56.60 M59.80,499.60H56.60 M59.80,448.10H56.60" stroke="#000" stroke-width="0.95" fill="none"/>
<text x="202.80" y="745.60" font-size="12.8" text-anchor="middle" textLength="120.82" lengthAdjust="spacingAndGlyphs">False Positive Rate</text>
<text x="34.20" y="576.95" font-size="12.8" text-anchor="middle" textLength="118.03" lengthAdjust="spacingAndGlyphs" transform="rotate(-90 34.20 576.95)">True Positive Rate</text>
<text x="202.80" y="418.90" font-size="10.6" text-anchor="middle" textLength="100.02" lengthAdjust="spacingAndGlyphs">Mean AUROC curve</text>
<text x="202.80" y="430.20" font-size="10.6" text-anchor="middle" textLength="158.30" lengthAdjust="spacingAndGlyphs">(Positive label &#39;Drug Approval&#39;)</text>
<rect x="135.5" y="596.4" width="205.80" height="118.10" rx="1.7" ry="1.7" fill="#fff" fill-opacity="0.8" stroke="#cccccc" stroke-opacity="0.8" stroke-width="0.7"/>
<path d="M137.70,603.20H156.60" stroke="#ff0000" stroke-width="1.72" fill="none"/>
<text x="163.00" y="606.20" font-size="8.8" text-anchor="start" textLength="175.20" lengthAdjust="spacingAndGlyphs">ChemAP: Student (AUC = 0.782 ± 0.025)</text>
<path d="M138.10,615.19h1.72v1.72h-1.72z M142.66,615.19h1.72v1.72h-1.72z M147.22,615.19h1.72v1.72h-1.72z M151.77,615.19h1.72v1.72h-1.72z" fill="#0000ff"/>
<text x="163.00" y="619.05" font-size="8.8" text-anchor="start" textLength="117.80" lengthAdjust="spacingAndGlyphs">MLP (AUC = 0.749 ± 0.020)</text>
<path d="M138.10,628.04h1.72v1.72h-1.72z M142.66,628.04h1.72v1.72h-1.72z M147.22,628.04h1.72v1.72h-1.72z M151.77,628.04h1.72v1.72h-1.72z" fill="#ffff00"/>
<text x="163.00" y="631.90" font-size="8.8" text-anchor="start" textLength="147.02" lengthAdjust="spacingAndGlyphs">ChemBERT (AUC = 0.726 ± 0.027)</text>
<path d="M138.10,640.89h1.72v1.72h-1.72z M142.66,640.89h1.72v1.72h-1.72z M147.22,640.89h1.72v1.72h-1.72z M151.77,640.89h1.72v1.72h-1.72z" fill="#ff0000"/>
<text x="163.00" y="644.75" font-size="8.8" text-anchor="start" textLength="132.49" lengthAdjust="spacingAndGlyphs">Uni-Mol (AUC = 0.696 ± 0.029)</text>
<path d="M138.10,653.74h1.72v1.72h-1.72z M142.66,653.74h1.72v1.72h-1.72z M147.22,653.74h1.72v1.72h-1.72z M151.77,653.74h1.72v1.72h-1.72z" fill="#ffa500"/>
<text x="163.00" y="657.60" font-size="8.8" text-anchor="start" textLength="111.43" lengthAdjust="spacingAndGlyphs">RF (AUC = 0.750 ± 0.023)</text>
<path d="M138.10,666.59h1.72v1.72h-1.72z M142.66,666.59h1.72v1.72h-1.72z M147.22,666.59h1.72v1.72h-1.72z M151.77,666.59h1.72v1.72h-1.72z" fill="#87ceeb"/>
<text x="163.00" y="670.45" font-size="8.8" text-anchor="start" textLength="138.57" lengthAdjust="spacingAndGlyphs">Catboost (AUC = 0.748 ± 0.021)</text>
<path d="M138.10,679.44h1.72v1.72h-1.72z M142.66,679.44h1.72v1.72h-1.72z M147.22,679.44h1.72v1.72h-1.72z M151.77,679.44h1.72v1.72h-1.72z" fill="#000000"/>
<text x="163.00" y="683.30" font-size="8.8" text-anchor="start" textLength="119.15" lengthAdjust="spacingAndGlyphs">SVM (AUC = 0.705 ± 0.028)</text>
<path d="M138.10,692.29h1.72v1.72h-1.72z M142.66,692.29h1.72v1.72h-1.72z M147.22,692.29h1.72v1.72h-1.72z M151.77,692.29h1.72v1.72h-1.72z" fill="#008000"/>
<text x="163.00" y="696.15" font-size="8.8" text-anchor="start" textLength="129.60" lengthAdjust="spacingAndGlyphs">XGBRF (AUC = 0.692 ± 0.016)</text>
<path d="M138.10,705.14h1.72v1.72h-1.72z M142.66,705.14h1.72v1.72h-1.72z M147.22,705.14h1.72v1.72h-1.72z M151.77,705.14h1.72v1.72h-1.72z" fill="#800080"/>
<text x="163.00" y="709.00" font-size="8.8" text-anchor="start" textLength="136.94" lengthAdjust="spacingAndGlyphs">XGBoost (AUC = 0.672 ± 0.017)</text>
<clipPath id="clipd"><rect x="421.5" y="435.3" width="285.29999999999995" height="283.09999999999997"/></clipPath>
<g clip-path="url(#clipd)">
<polyline points="434.60,662.30 434.90,620.00 435.40,560.00 435.90,535.40 438.80,531.40 442.40,519.50 444.80,530.40 447.70,522.50 450.30,531.80 454.70,525.50 458.60,516.60 465.50,506.10 468.50,514.00 471.50,513.60 476.40,506.70 482.30,507.70 485.30,511.60 488.30,511.60 492.20,514.60 499.20,512.60 504.10,516.00 510.50,521.50 515.60,524.40 520.70,526.60 524.10,525.80 530.80,530.80 534.20,530.00 539.30,530.50 547.80,533.40 554.60,535.90 559.70,535.90 563.10,540.20 568.10,541.00 573.20,546.10 578.30,552.90 585.10,558.00 590.20,559.70 596.60,566.50 602.50,572.40 608.40,577.30 613.40,578.30 619.30,584.30 623.30,585.30 629.20,589.20 635.10,595.10 641.10,599.10 647.00,602.10 652.90,608.00 658.90,616.90 663.80,626.80 669.70,638.60 674.70,646.60 679.60,658.40 686.00,678.00 690.00,690.00 693.60,704.20" fill="none" stroke="#ff0000" stroke-width="1.72" stroke-linejoin="round" stroke-linecap="square"/>
<polyline points="434.60,450.00 435.70,462.50 436.80,471.00 438.40,475.30 440.00,479.60 440.80,483.90 441.00,488.70 442.10,497.20 444.80,495.60 447.50,498.80 450.10,501.50 452.80,498.80 455.00,503.60 457.60,506.80 461.40,507.40 463.50,511.70 464.50,518.60 466.50,529.40 471.50,543.30 478.40,543.30 484.30,546.20 490.30,553.20 496.20,554.70 503.10,553.20 510.00,556.10 519.90,559.10 527.80,557.10 535.70,557.10 543.60,558.10 551.60,560.10 560.00,561.50 567.90,565.50 575.80,569.40 583.70,573.40 589.70,579.30 595.60,583.30 601.50,589.20 607.50,593.20 613.40,597.10 621.30,600.10 629.20,605.00 637.10,609.00 643.10,614.90 651.00,620.90 656.90,630.70 662.80,636.70 668.80,642.60 674.70,650.50 678.60,658.40 686.00,678.00 693.60,704.20" fill="none" stroke="#0000ff" stroke-width="1.72" stroke-dasharray="1.72 2.84" stroke-linejoin="round" stroke-linecap="butt"/>
<polyline points="434.60,500.00 436.50,530.00 438.80,539.30 441.80,555.10 444.80,563.10 449.70,567.00 454.70,574.90 459.60,571.00 462.60,561.10 466.50,559.10 474.40,558.10 484.30,551.20 492.20,559.10 500.10,562.10 508.10,563.10 516.00,567.00 523.90,568.00 535.70,570.00 547.60,571.00 560.00,575.40 571.90,579.30 579.80,583.30 587.70,591.20 595.60,596.10 603.50,599.10 615.40,603.10 623.30,612.90 631.20,618.90 639.10,624.80 647.00,630.70 654.90,638.60 662.80,646.60 670.70,656.40 680.00,672.00 688.00,688.00 693.60,704.20" fill="none" stroke="#ffff00" stroke-width="1.72" stroke-dasharray="1.72 2.84" stroke-linejoin="round" stroke-linecap="butt"/>
<polyline points="434.60,555.00 436.00,572.00 440.80,576.90 444.80,572.90 448.70,565.00 452.70,563.10 456.60,551.20 460.60,553.20 466.50,556.10 472.50,555.10 478.40,553.20 484.30,550.20 488.30,558.10 494.20,557.10 500.10,563.10 508.10,567.00 516.00,571.00 521.90,574.90 531.80,574.90 537.70,578.90 545.60,582.80 551.60,586.80 555.50,590.70 560.00,595.10 567.90,603.10 575.80,611.00 583.70,614.90 593.60,618.90 605.50,624.80 615.40,630.70 625.30,634.70 635.10,638.60 643.10,646.60 651.00,654.50 656.90,658.40 666.00,670.00 676.00,682.00 686.00,694.00 693.60,704.20" fill="none" stroke="#ff0000" stroke-width="1.72" stroke-dasharray="1.72 2.84" stroke-linejoin="round" stroke-linecap="butt"/>
<polyline points="434.40,453.40 434.80,466.70 435.20,480.60 435.70,493.50 436.20,499.90 436.80,508.40 437.30,514.90 438.90,503.10 442.10,499.40 444.30,504.20 446.40,512.70 449.10,523.40 453.90,524.20 458.60,523.50 466.50,519.50 474.40,524.50 482.30,532.40 492.20,535.40 500.10,537.30 510.00,543.30 519.90,549.20 527.80,555.10 535.70,556.10 543.60,559.10 551.60,563.10 560.00,567.50 571.90,575.40 579.80,581.30 587.70,589.20 595.60,593.20 605.50,597.10 617.30,597.10 627.20,603.10 639.10,612.90 647.00,616.90 654.90,622.80 662.80,630.70 668.80,640.60 674.70,650.50 682.00,668.00 688.00,684.00 693.60,704.20" fill="none" stroke="#ffa500" stroke-width="1.72" stroke-dasharray="1.72 2.84" stroke-linejoin="round" stroke-linecap="butt"/>
<polyline points="434.60,505.00 435.20,513.80 436.20,509.50 437.30,502.00 441.00,493.00 445.80,491.90 448.70,498.80 452.70,506.70 456.60,519.50 460.60,521.90 468.50,520.50 476.40,524.50 484.30,526.50 494.20,528.40 504.10,536.40 514.00,541.30 523.90,546.20 531.80,548.20 539.70,554.20 547.60,559.10 555.50,563.10 560.00,570.40 575.80,579.30 589.70,587.20 599.50,595.10 611.40,599.10 621.30,601.10 631.20,607.00 643.10,614.90 651.00,618.90 658.90,626.80 666.80,638.60 672.70,648.50 680.00,664.00 687.00,682.00 693.60,704.20" fill="none" stroke="#87ceeb" stroke-width="1.72" stroke-dasharray="1.72 2.84" stroke-linejoin="round" stroke-linecap="butt"/>
<polyline points="434.60,519.60 434.60,577.60 439.00,585.00 441.00,600.00 441.90,608.00 444.00,592.00 447.10,582.10 449.30,590.10 450.70,594.70 456.60,598.60 462.60,606.60 468.50,610.50 476.40,606.60 484.30,603.60 492.20,604.60 500.10,608.50 508.10,612.50 516.00,614.50 523.90,610.50 531.80,602.60 539.70,600.60 547.60,600.60 555.50,591.70 560.00,593.20 567.90,597.10 577.80,603.10 587.70,605.00 599.50,609.00 611.40,611.00 619.30,609.00 625.30,614.90 633.20,618.90 641.10,620.90 649.00,624.80 654.90,634.70 660.90,642.60 666.80,650.50 671.70,658.40 678.00,670.00 686.00,688.00 693.60,704.20" fill="none" stroke="#000000" stroke-width="1.72" stroke-dasharray="1.72 2.84" stroke-linejoin="round" stroke-linecap="butt"/>
<polyline points="434.80,448.00 437.30,450.70 437.80,459.80 438.40,468.90 438.90,477.40 438.90,487.10 440.00,495.60 440.80,504.20 441.60,513.80 442.10,519.90 444.80,531.40 446.80,539.30 450.70,549.20 454.70,557.10 458.60,567.00 460.60,578.90 464.50,584.80 472.50,584.80 480.40,581.80 486.30,588.80 494.20,590.70 504.10,590.70 514.00,592.70 523.90,591.70 533.80,596.70 543.60,599.60 551.60,600.60 560.00,607.00 569.90,609.00 579.80,612.90 589.70,612.90 599.50,620.90 611.40,626.80 619.30,628.80 629.20,632.70 639.10,640.60 647.00,646.60 654.90,652.50 662.80,658.40 672.00,670.00 682.00,684.00 693.60,704.20" fill="none" stroke="#008000" stroke-width="1.72" stroke-dasharray="1.72 2.84" stroke-linejoin="round" stroke-linecap="butt"/>
<polyline points="434.60,560.00 436.00,575.00 436.90,582.80 439.80,590.70 443.80,600.60 446.00,594.00 449.70,594.70 452.70,604.60 458.60,615.50 464.50,614.50 470.50,610.50 478.40,608.50 486.30,611.50 496.20,610.50 504.10,611.50 512.00,614.50 519.90,612.50 527.80,614.50 537.70,612.50 547.60,611.50 555.50,612.50 560.00,613.90 567.90,612.00 579.80,616.90 591.60,624.80 601.50,626.80 611.40,630.70 621.30,634.70 631.20,638.60 639.10,644.60 647.00,654.50 653.00,658.40 662.00,668.00 672.00,678.00 682.00,690.00 693.60,704.20" fill="none" stroke="#800080" stroke-width="1.72" stroke-dasharray="1.72 2.84" stroke-linejoin="round" stroke-linecap="butt"/>
</g>
<rect x="421.5" y="435.3" width="285.30" height="283.10" fill="none" stroke="#333" stroke-width="0.95"/>
<text x="434.30" y="731.70" font-size="9.8" text-anchor="middle" textLength="13.52" lengthAdjust="spacingAndGlyphs">0.0</text>
<text x="486.16" y="731.70" font-size="9.8" text-anchor="middle" textLength="13.52" lengthAdjust="spacingAndGlyphs">0.2</text>
<text x="538.02" y="731.70" font-size="9.8" text-anchor="middle" textLength="13.52" lengthAdjust="spacingAndGlyphs">0.4</text>
<text x="589.88" y="731.70" font-size="9.8" text-anchor="middle" textLength="13.52" lengthAdjust="spacingAndGlyphs">0.6</text>
<text x="641.74" y="731.70" font-size="9.8" text-anchor="middle" textLength="13.52" lengthAdjust="spacingAndGlyphs">0.8</text>
<text x="693.60" y="731.70" font-size="9.8" text-anchor="middle" textLength="13.52" lengthAdjust="spacingAndGlyphs">1.0</text>
<text x="415.50" y="701.30" font-size="9.8" text-anchor="end" textLength="18.93" lengthAdjust="spacingAndGlyphs">0.65</text>
<text x="415.50" y="665.60" font-size="9.8" text-anchor="end" textLength="18.93" lengthAdjust="spacingAndGlyphs">0.70</text>
<text x="415.50" y="629.90" font-size="9.8" text-anchor="end" textLength="18.93" lengthAdjust="spacingAndGlyphs">0.75</text>
<text x="415.50" y="594.20" font-size="9.8" text-anchor="end" textLength="18.93" lengthAdjust="spacingAndGlyphs">0.80</text>
<text x="415.50" y="558.50" font-size="9.8" text-anchor="end" textLength="18.93" lengthAdjust="spacingAndGlyphs">0.85</text>
<text x="415.50" y="522.80" font-size="9.8" text-anchor="end" textLength="18.93" lengthAdjust="spacingAndGlyphs">0.90</text>
<text x="415.50" y="487.10" font-size="9.8" text-anchor="end" textLength="18.93" lengthAdjust="spacingAndGlyphs">0.95</text>
<text x="415.50" y="451.40" font-size="9.8" text-anchor="end" textLength="18.93" lengthAdjust="spacingAndGlyphs">1.00</text>
<path d="M434.30,718.40V721.60 M486.16,718.40V721.60 M538.02,718.40V721.60 M589.88,718.40V721.60 M641.74,718.40V721.60 M693.60,718.40V721.60 M421.50,698.00H418.30 M421.50,662.30H418.30 M421.50,626.60H418.30 M421.50,590.90H418.30 M421.50,555.20H418.30 M421.50,519.50H418.30 M421.50,483.80H418.30 M421.50,448.10H418.30" stroke="#000" stroke-width="0.95" fill="none"/>
<text x="564.15" y="746.40" font-size="12.8" text-anchor="middle" textLength="38.78" lengthAdjust="spacingAndGlyphs">Recall</text>
<text x="391.00" y="578.05" font-size="12.8" text-anchor="middle" textLength="58.01" lengthAdjust="spacingAndGlyphs" transform="rotate(-90 391.00 578.05)">Precision</text>
<text x="564.15" y="418.90" font-size="10.6" text-anchor="middle" textLength="97.63" lengthAdjust="spacingAndGlyphs">Mean AUPRC curve</text>
<text x="564.15" y="430.20" font-size="10.6" text-anchor="middle" textLength="158.30" lengthAdjust="spacingAndGlyphs">(Positive label &#39;Drug Approval&#39;)</text>
<rect x="537.6" y="438.4" width="165.90" height="94.70" rx="1.7" ry="1.7" fill="#fff" fill-opacity="0.8" stroke="#cccccc" stroke-opacity="0.8" stroke-width="0.7"/>
<path d="M539.90,444.50H554.80" stroke="#ff0000" stroke-width="1.72" fill="none"/>
<text x="560.10" y="447.20" font-size="7.05" text-anchor="start" textLength="141.69" lengthAdjust="spacingAndGlyphs">ChemAP: Student (AUC = 0.842 ± 0.026)</text>
<path d="M540.30,453.94h1.72v1.72h-1.72z M545.20,453.94h1.72v1.72h-1.72z M550.10,453.94h1.72v1.72h-1.72z" fill="#0000ff"/>
<text x="560.10" y="457.50" font-size="7.05" text-anchor="start" textLength="95.27" lengthAdjust="spacingAndGlyphs">MLP (AUC = 0.819 ± 0.015)</text>
<path d="M540.30,464.24h1.72v1.72h-1.72z M545.20,464.24h1.72v1.72h-1.72z M550.10,464.24h1.72v1.72h-1.72z" fill="#ffff00"/>
<text x="560.10" y="467.80" font-size="7.05" text-anchor="start" textLength="118.90" lengthAdjust="spacingAndGlyphs">ChemBERT (AUC = 0.795 ± 0.040)</text>
<path d="M540.30,474.54h1.72v1.72h-1.72z M545.20,474.54h1.72v1.72h-1.72z M550.10,474.54h1.72v1.72h-1.72z" fill="#ff0000"/>
<text x="560.10" y="478.10" font-size="7.05" text-anchor="start" textLength="107.15" lengthAdjust="spacingAndGlyphs">Uni-Mol (AUC = 0.779 ± 0.029)</text>
<path d="M540.30,484.84h1.72v1.72h-1.72z M545.20,484.84h1.72v1.72h-1.72z M550.10,484.84h1.72v1.72h-1.72z" fill="#ffa500"/>
<text x="560.10" y="488.40" font-size="7.05" text-anchor="start" textLength="90.11" lengthAdjust="spacingAndGlyphs">RF (AUC = 0.819 ± 0.023)</text>
<path d="M540.30,495.14h1.72v1.72h-1.72z M545.20,495.14h1.72v1.72h-1.72z M550.10,495.14h1.72v1.72h-1.72z" fill="#87ceeb"/>
<text x="560.10" y="498.70" font-size="7.05" text-anchor="start" textLength="112.07" lengthAdjust="spacingAndGlyphs">Catboost (AUC = 0.820 ± 0.020)</text>
<path d="M540.30,505.44h1.72v1.72h-1.72z M545.20,505.44h1.72v1.72h-1.72z M550.10,505.44h1.72v1.72h-1.72z" fill="#000000"/>
<text x="560.10" y="509.00" font-size="7.05" text-anchor="start" textLength="96.36" lengthAdjust="spacingAndGlyphs">SVM (AUC = 0.765 ± 0.039)</text>
<path d="M540.30,515.74h1.72v1.72h-1.72z M545.20,515.74h1.72v1.72h-1.72z M550.10,515.74h1.72v1.72h-1.72z" fill="#008000"/>
<text x="560.10" y="519.30" font-size="7.05" text-anchor="start" textLength="104.81" lengthAdjust="spacingAndGlyphs">XGBRF (AUC = 0.773 ± 0.022)</text>
<path d="M540.30,526.04h1.72v1.72h-1.72z M545.20,526.04h1.72v1.72h-1.72z M550.10,526.04h1.72v1.72h-1.72z" fill="#800080"/>
<text x="560.10" y="529.60" font-size="7.05" text-anchor="start" textLength="110.75" lengthAdjust="spacingAndGlyphs">XGBoost (AUC = 0.748 ± 0.032)</text>
<text x="-0.5" y="19.6" font-size="27" font-weight="bold" textLength="13.9" lengthAdjust="spacingAndGlyphs">a</text>
<text x="357.6" y="19.6" font-size="27" font-weight="bold" textLength="16.5" lengthAdjust="spacingAndGlyphs">b</text>
<text x="-0.8" y="404.5" font-size="27" font-weight="bold" textLength="15.0" lengthAdjust="spacingAndGlyphs">c</text>
<text x="357.5" y="404.5" font-size="27" font-weight="bold" textLength="16.3" lengthAdjust="spacingAndGlyphs">d</text>
</svg></body></html>
